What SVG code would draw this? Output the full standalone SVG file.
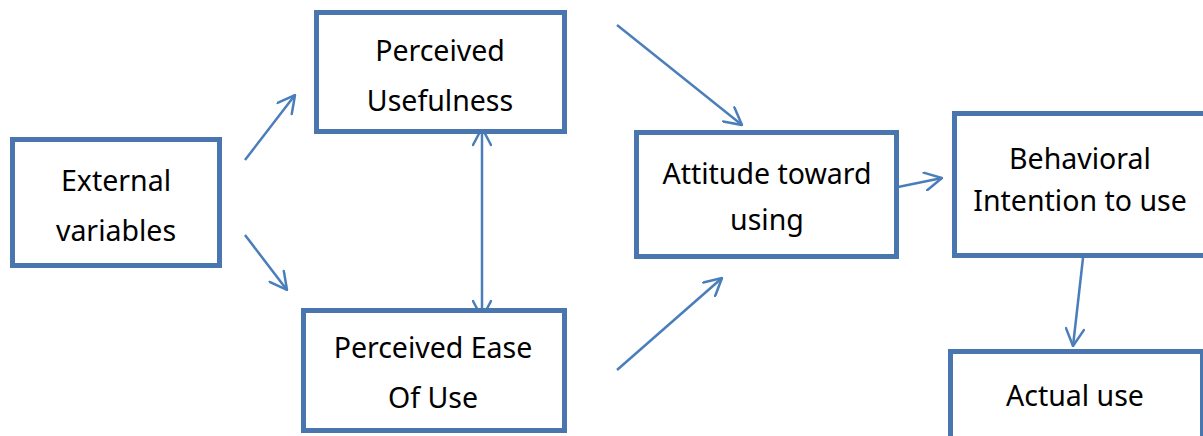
<svg xmlns="http://www.w3.org/2000/svg" width="1203" height="436" viewBox="0 0 1203 436">
<style>
.box{fill:#fff;stroke:#4a76b0;stroke-width:5}
.t{font-family:"Noto Sans","Noto Sans CJK KR",sans-serif;font-size:28.5px;fill:#000;text-anchor:middle}
.c{stroke:#4a7ebb;stroke-width:2.5;fill:none}
.ah{stroke:#4a7ebb;stroke-width:2.5;fill:none;stroke-linecap:round;stroke-linejoin:miter}
</style>
<defs>
<marker id="arrL" viewBox="0 0 20 20" refX="19" refY="10" markerWidth="20" markerHeight="20" markerUnits="userSpaceOnUse" orient="auto-start-reverse">
<path d="M2,1 L19,10 L2,19" class="ah"/>
</marker>
</defs>
<g id="connectors">
<line class="c" x1="245" y1="160" x2="295" y2="95" marker-end="url(#arrL)"/>
<line class="c" x1="245" y1="235" x2="287" y2="290" marker-end="url(#arrL)"/>
<line class="c" x1="482" y1="128" x2="482" y2="318" marker-start="url(#arrL)" marker-end="url(#arrL)"/>
<line class="c" x1="617" y1="25" x2="742" y2="125" marker-end="url(#arrL)"/>
<line class="c" x1="617" y1="370" x2="722" y2="278" marker-end="url(#arrL)"/>
<line class="c" x1="898" y1="187" x2="942" y2="178" marker-end="url(#arrL)"/>
<line class="c" x1="1083" y1="258" x2="1073" y2="346" marker-end="url(#arrL)"/>
</g>
<g id="external">
<rect class="box" x="12.5" y="139.5" width="207" height="126"/>
<text class="t" x="116" y="191">External</text>
<text class="t" x="116" y="241">variables</text>
</g>
<g id="usefulness">
<rect class="box" x="316.5" y="12.5" width="248" height="119"/>
<text class="t" x="440" y="61">Perceived</text>
<text class="t" x="440" y="111">Usefulness</text>
</g>
<g id="ease">
<rect class="box" x="303.5" y="310.5" width="261" height="120"/>
<text class="t" x="433" y="358">Perceived Ease</text>
<text class="t" x="433" y="408">Of Use</text>
</g>
<g id="attitude">
<rect class="box" x="636.5" y="132.5" width="260" height="124"/>
<text class="t" x="767" y="184">Attitude toward</text>
<text class="t" x="767" y="230">using</text>
</g>
<g id="intention">
<rect class="box" x="954.5" y="113.5" width="252" height="142"/>
<text class="t" x="1080" y="169">Behavioral</text>
<text class="t" x="1080" y="211">Intention to use</text>
</g>
<g id="actual">
<rect class="box" x="950.5" y="351.5" width="252" height="100"/>
<text class="t" x="1075" y="406">Actual use</text>
</g>
</svg>
